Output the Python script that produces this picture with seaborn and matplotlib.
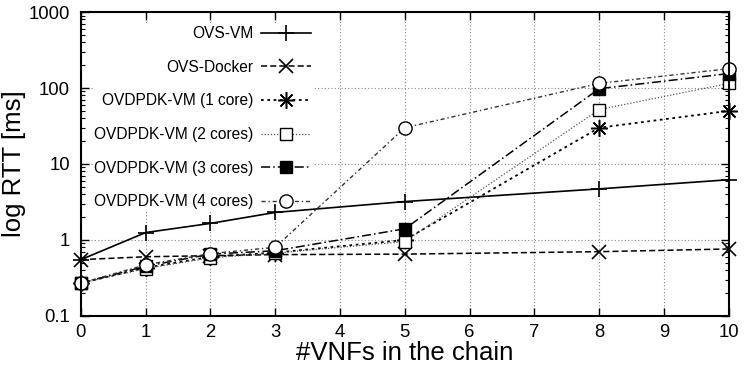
from matplotlib import pyplot as plt
from matplotlib import ticker
import seaborn as sns

# number of VNFs in the chain
vnfs = [0, 1, 2, 3, 5, 8, 10]

# RTT in ms
ovs_vm = [0.55, 1.25, 1.65, 2.3, 3.2, 4.7, 6.2]
ovs_docker = [0.55, 0.6, 0.62, 0.64, 0.65, 0.7, 0.76]
dpdk_1core = [0.27, 0.43, 0.6, 0.68, 1.0, 30, 50]
dpdk_2cores = [0.27, 0.42, 0.58, 0.67, 0.95, 52, 115]
dpdk_3cores = [0.27, 0.45, 0.65, 0.72, 1.4, 98, 155]
dpdk_4cores = [0.27, 0.47, 0.66, 0.8, 30, 115, 180]

labels = ['OVS-VM', 'OVS-Docker', 'OVDPDK-VM (1 core)', 'OVDPDK-VM (2 cores)',
          'OVDPDK-VM (3 cores)', 'OVDPDK-VM (4 cores)']
series = [ovs_vm, ovs_docker, dpdk_1core, dpdk_2cores, dpdk_3cores, dpdk_4cores]

styles = [
    dict(linestyle='-', lw=1.2, color='black', marker='+', ms=12, mec='black', mew=1.2),
    dict(linestyle=(0, (4, 2)), lw=1.1, color='black', marker='x', ms=10, mec='black', mew=1.2),
    dict(linestyle=(0, (1.5, 2)), lw=1.3, color='black', marker=(8, 2, 0), ms=12,
         mec='black', mew=1.1),
    dict(linestyle=(0, (1, 1.5)), lw=0.9, color='#555555', marker='s', ms=9,
         mfc='white', mec='black', mew=1.0),
    dict(linestyle=(0, (6, 2, 1, 2)), lw=1.1, color='black', marker='s', ms=9,
         mfc='black', mec='black', mew=1.0),
    dict(linestyle=(0, (3, 2, 1, 2)), lw=1.0, color='#333333', marker='o', ms=9.5,
         mfc='white', mec='black', mew=1.0),
]

if __name__ == "__main__":
    plt.rcParams['font.family'] = ['Liberation Sans', 'DejaVu Sans']
    fig = plt.figure(figsize=(7.49, 3.66), dpi=100)
    ax = fig.add_axes([0.108, 0.137, 0.865, 0.83])

    for vals, lab, st in zip(series, labels, styles):
        sns.lineplot(x=vnfs, y=vals, label=lab, ax=ax, clip_on=False, **st)

    ax.set_yscale('log')
    ax.set_ylim(0.1, 1000)
    ax.set_xlim(0, 10)
    ax.set_xticks(range(0, 11))
    ax.yaxis.set_major_formatter(ticker.FuncFormatter(lambda v, p: '%g' % v))
    ax.yaxis.set_minor_locator(ticker.LogLocator(base=10, subs=range(2, 10)))
    ax.yaxis.set_minor_formatter(ticker.NullFormatter())

    ax.tick_params(which='both', direction='in', top=True, right=True, labelsize=13.3)
    ax.tick_params(which='major', length=6, width=1)
    ax.tick_params(which='minor', length=3, width=0.8)
    ax.tick_params(axis='y', pad=8)
    ax.tick_params(axis='x', pad=6)
    for s in ax.spines.values():
        s.set_linewidth(1.5)

    ax.set_axisbelow(True)
    ax.grid(True, which='major', linestyle=(0, (1, 2)), color='#888888', linewidth=0.8)

    ax.set_xlabel('#VNFs in the chain', fontsize=18.5, labelpad=0)
    ax.set_ylabel('log RTT [ms]', fontsize=18.5, labelpad=2)

    leg = ax.legend(loc='upper right', bbox_to_anchor=(0.37, 0.985), markerfirst=False,
                    frameon=True, fontsize=11.2, handlelength=3.2, labelspacing=1.2,
                    borderpad=0.1, handletextpad=0.5)
    leg.get_frame().set_edgecolor('none')
    leg.get_frame().set_facecolor('white')
    leg.get_frame().set_alpha(1)
    # key box hides the grid but not the data lines
    leg.set_zorder(1.5)

    plt.savefig('out.png', dpi=100)
